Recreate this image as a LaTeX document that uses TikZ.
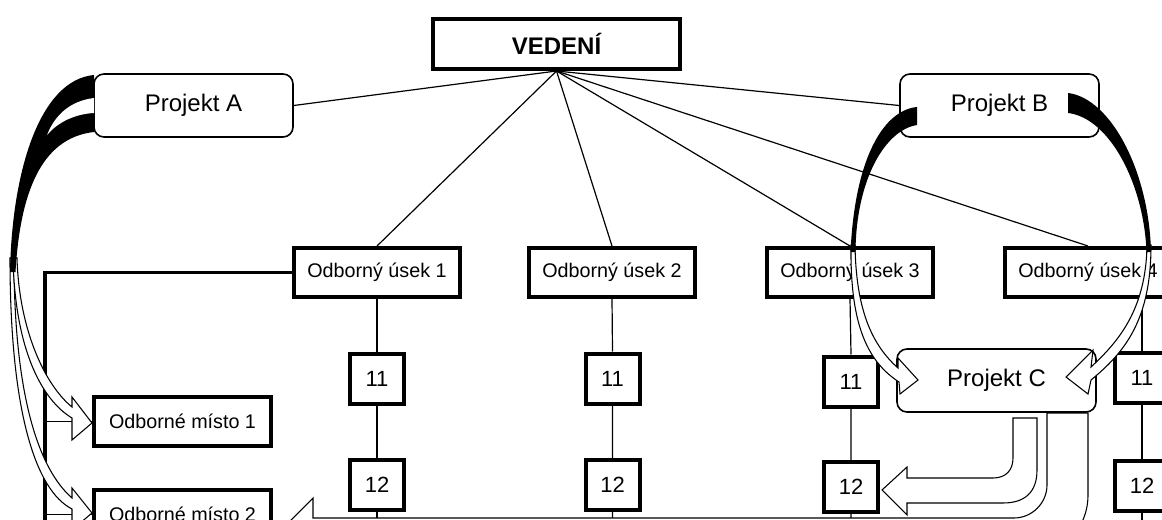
\documentclass[tikz,border=0pt]{standalone}
\usepackage{fontspec}
\setmainfont{Liberation Sans}
\usetikzlibrary{backgrounds}
\newcommand\pxu{0.75pt}
\begin{document}
\begin{tikzpicture}[x=0.75pt,y=-0.75pt,
  thickbox/.style={draw, line width=3pt, fill=white, inner sep=0pt,
    font=\fontsize{14.8pt}{16pt}\selectfont},
  numbox/.style={thickbox, minimum width=54*\pxu, minimum height=50*\pxu,
    font=\fontsize{16.5pt}{18pt}\selectfont},
  unitbox/.style={thickbox, minimum width=166*\pxu, minimum height=49*\pxu},
  placebox/.style={thickbox, minimum width=177*\pxu, minimum height=49*\pxu},
  projbox/.style={draw, line width=1.2pt, fill=white, rounded corners=7.5pt,
    minimum width=199*\pxu, minimum height=63*\pxu, inner sep=0pt,
    font=\fontsize{18pt}{20pt}\selectfont},
  link/.style={line width=0.9pt},
  hollow/.style={draw, fill=white, line width=0.8pt, line join=miter},
  band/.style={fill=black}]
\useasboundingbox (0,0) rectangle (1162,520);

% management and projects
\node[thickbox, minimum width=247*\pxu, minimum height=50*\pxu,
  font=\fontsize{18pt}{20pt}\selectfont\bfseries] (ved) at (556.5,44) {VEDENÍ};
\node[projbox] (projA) at (193.5,105.5) {Projekt A};
\node[projbox] (projB) at (999.5,105.5) {Projekt B};
\node[projbox] (projC) at (996.5,380.5) {Projekt C};

% departments
\node[unitbox] (us1) at (377,272.5) {Odborný úsek 1};
\node[unitbox] (us2) at (612,272.5) {Odborný úsek 2};
\node[unitbox] (us3) at (850,272.5) {Odborný úsek 3};
\node[unitbox] (us4) at (1088,272.5) {Odborný úsek 4};

% numbered units
\node[numbox] (a11) at (377,378.5) {11};
\node[numbox] (a12) at (377,485) {12};
\node[numbox] (b11) at (612.5,378.5) {11};
\node[numbox] (b12) at (612.5,485) {12};
\node[numbox] (c11) at (851,381.5) {11};
\node[numbox] (c12) at (851,487) {12};
\node[numbox] (d11) at (1142,378) {11};
\node[numbox] (d12) at (1142,486) {12};

% workplaces
\node[placebox] (m1) at (182.5,421.5) {Odborné místo 1};
\node[placebox] (m2) at (182.5,514.5) {Odborné místo 2};

\coordinate (a12end) at (377,530);
\coordinate (b12end) at (612.5,530);
\coordinate (c12end) at (851,530);
\coordinate (d12end) at (1142,530);
\coordinate (brk) at (45,530);

\begin{pgfonlayer}{background}
  % lines from the management
  \draw[link] (ved.south) -- (projA.east);
  \draw[link] (ved.south) -- (projB.west);
  \draw[link] (ved.south) -- (us1.north);
  \draw[link] (ved.south) -- (us2.north);
  \draw[link] (ved.south) -- (us3.north);
  \draw[link] (ved.south) -- (us4.north);
  % columns under the departments
  \draw[link] (us1.south) -- (a11.north) (a11.south) -- (a12.north) (a12.south) -- (a12end);
  \draw[link] (us2.south) -- (b11.north) (b11.south) -- (b12.north) (b12.south) -- (b12end);
  \draw[link] (us3.south) -- (c11.north) (c11.south) -- (c12.north) (c12.south) -- (c12end);
  \draw[link] (d11.north |- us4.south) -- (d11.north) (d11.south) -- (d12.north) (d12.south) -- (d12end);
  % bracket from department 1 to the workplaces
  \draw[line width=2.5pt] (us1.west) -| (brk);
  \draw[link] (brk |- m1.west) -- (m1.west);
  \draw[link] (brk |- m2.west) -- (m2.west);
  % wide arrow from Projekt C to the workplace 2
  \draw[hollow] (1047,413) -- (1047,485) .. controls (1047,503) and (1032,518) .. (1014,518)
    -- (313,518) -- (313,498) -- (273,538) -- (313,578) -- (313,558) -- (1025,558)
    .. controls (1060,558) and (1088,530) .. (1088,495) -- (1088,413) -- cycle;
\end{pgfonlayer}

% U-shaped arrow from Projekt C to unit 12
\draw[hollow] (1013,418) -- (1037,418) -- (1037,470) .. controls (1037,492) and (1025,503) .. (1003,503)
  -- (907,503) -- (907,515) -- (882,490) -- (907,467) -- (907,478) -- (993,478)
  .. controls (1006,478) and (1013,470) .. (1013,458) -- cycle;

% arrows from Projekt A to the workplaces
\draw[hollow] (10,258) .. controls (10,410) and (35,490) .. (72,509) -- (72,530) -- (92,513)
  -- (72,488) -- (72,498) .. controls (40,470) and (14,400) .. (14,258) -- cycle;
\draw[hollow] (13,258) .. controls (15,350) and (42,400) .. (72,418) -- (72,440) -- (92,423)
  -- (72,397) -- (72,407) .. controls (45,385) and (19,330) .. (17,258) -- cycle;
\fill[band] (94,75) .. controls (40,80) and (12,170) .. (10,272) -- (15.5,272)
  .. controls (20,195) and (40,138) .. (94,132) -- cycle;
\fill[white] (94,98) .. controls (70,101) and (55,115) .. (47,135)
  .. controls (58,122) and (75,114) .. (94,113) -- cycle;

% arrows from Projekt B to Projekt C
\draw[hollow] (851,245) .. controls (850,320) and (865,360) .. (899,382) -- (900,394) -- (918,380)
  -- (898,358) -- (898,368) .. controls (872,345) and (856,310) .. (855,245) -- cycle;
\fill[band] (917,107) .. controls (885,110) and (855,155) .. (850.5,252) -- (855.5,252)
  .. controls (856,180) and (885,130) .. (917,125) -- cycle;
\draw[hollow] (1151,245) .. controls (1151,320) and (1125,352) .. (1091,380) -- (1088,394) -- (1066,377)
  -- (1093,350) -- (1091,367) .. controls (1118,342) and (1146,310) .. (1147,245) -- cycle;
\fill[band] (1068,93) .. controls (1110,98) and (1149,170) .. (1151,252) -- (1146.5,252)
  .. controls (1144,185) and (1110,118) .. (1068,113) -- cycle;
\end{tikzpicture}
\end{document}
